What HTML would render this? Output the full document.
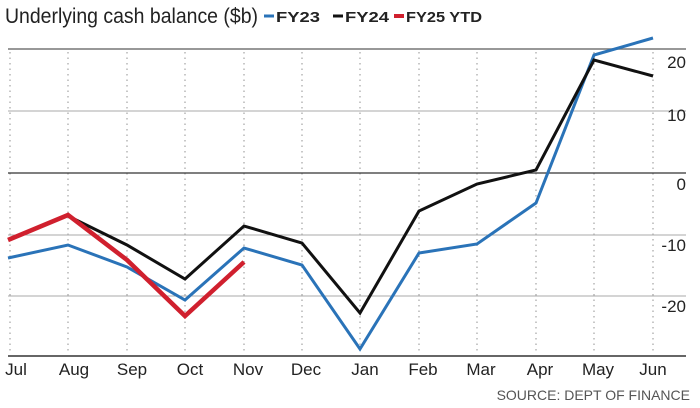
<!DOCTYPE html>
<html><head><style>
body{margin:0;background:#fff;}
svg{display:block;font-family:"Liberation Sans Narrow","Liberation Sans",sans-serif;}
</style></head><body>
<svg width="700" height="408" viewBox="0 0 700 408">
<text x="5" y="23" font-size="21" fill="#222" textLength="253" lengthAdjust="spacingAndGlyphs">Underlying cash balance ($b)</text>
<line x1="264" y1="16" x2="274" y2="16" stroke="#2a73b8" stroke-width="3"/>
<text x="276" y="22" font-size="15" font-weight="bold" fill="#222" textLength="44" lengthAdjust="spacingAndGlyphs">FY23</text>
<line x1="333" y1="16" x2="343" y2="16" stroke="#111" stroke-width="3"/>
<text x="345" y="22" font-size="15" font-weight="bold" fill="#222" textLength="44" lengthAdjust="spacingAndGlyphs">FY24</text>
<line x1="394" y1="16" x2="404" y2="16" stroke="#d0202e" stroke-width="4"/>
<text x="406" y="22" font-size="15" font-weight="bold" fill="#222" textLength="76" lengthAdjust="spacingAndGlyphs">FY25 YTD</text>

<g stroke="#aaa" stroke-width="1.3" stroke-dasharray="1.5,4">
<line x1="10" y1="52" x2="10" y2="354"/><line x1="68" y1="52" x2="68" y2="354"/><line x1="127" y1="52" x2="127" y2="354"/><line x1="185" y1="52" x2="185" y2="354"/><line x1="244" y1="52" x2="244" y2="354"/><line x1="302" y1="52" x2="302" y2="354"/><line x1="360" y1="52" x2="360" y2="354"/><line x1="419" y1="52" x2="419" y2="354"/><line x1="477" y1="52" x2="477" y2="354"/><line x1="536" y1="52" x2="536" y2="354"/><line x1="594" y1="52" x2="594" y2="354"/><line x1="653" y1="52" x2="653" y2="354"/>
</g>
<line x1="8" y1="49" x2="686" y2="49" stroke="#777" stroke-width="1.5"/>
<line x1="8" y1="111" x2="686" y2="111" stroke="#aaa" stroke-width="1"/>
<line x1="8" y1="173" x2="686" y2="173" stroke="#333" stroke-width="1.3"/>
<line x1="8" y1="235" x2="686" y2="235" stroke="#aaa" stroke-width="1"/>
<line x1="8" y1="296" x2="686" y2="296" stroke="#aaa" stroke-width="1"/>
<line x1="8" y1="356" x2="686" y2="356" stroke="#666" stroke-width="2"/>

<g font-size="17" fill="#222" text-anchor="end">
<text x="686" y="68">20</text><text x="686" y="121">10</text><text x="686" y="190">0</text><text x="686" y="251">-10</text><text x="686" y="312">-20</text>
</g>
<g font-size="17" fill="#222" text-anchor="middle">
<text x="16" y="375">Jul</text><text x="74" y="375">Aug</text><text x="132" y="375">Sep</text><text x="190" y="375">Oct</text><text x="248" y="375">Nov</text><text x="306" y="375">Dec</text><text x="365" y="375">Jan</text><text x="423" y="375">Feb</text><text x="481" y="375">Mar</text><text x="540" y="375">Apr</text><text x="598" y="375">May</text><text x="653" y="375">Jun</text>
</g>
<text x="690" y="400" font-size="14" fill="#555" text-anchor="end">SOURCE: DEPT OF FINANCE</text>

<polyline fill="none" stroke="#2a73b8" stroke-width="3" stroke-linejoin="miter" points="8,258 68,245 127,267 185,300 244,248 302,265 360,349 419,253 477,244 536,203 594,55 653,38"/>
<polyline fill="none" stroke="#111" stroke-width="3" points="68,216 127,245 185,279 244,226 302,243 360,313 419,211 477,184 536,170 594,60 653,76"/>
<polyline fill="none" stroke="#d0202e" stroke-width="4.5" points="8,240 68,215 127,260 185,316 244,262"/>
</svg>
</body></html>
